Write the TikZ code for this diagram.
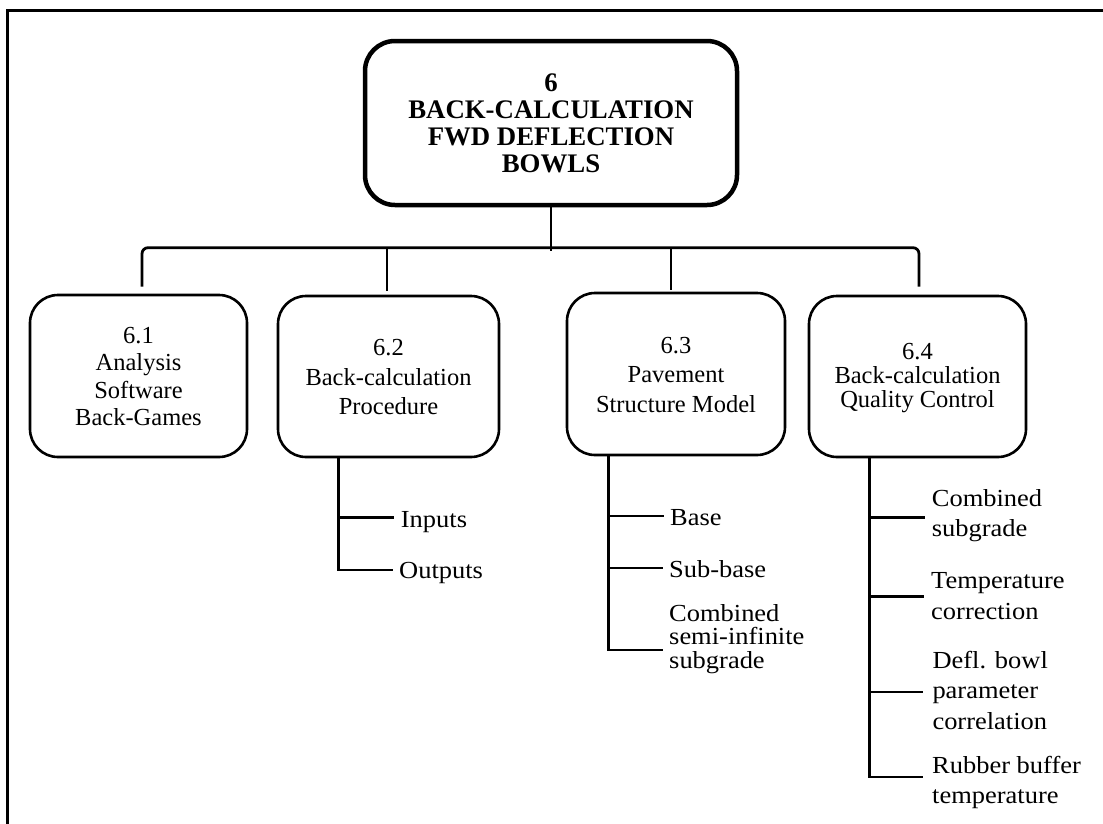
\documentclass[tikz,border=0pt]{standalone}
\usepackage{fontspec}
\setmainfont{Liberation Serif}
\newfontfamily\itemfont{Liberation Serif}[FakeStretch=1.08]
\usetikzlibrary{calc}

\tikzset{
  frameline/.style={line width=3pt},
  conn/.style={line width=2.8pt},
  topbox/.style={draw, line width=4.5pt, rounded corners=30pt,
    minimum width=372pt, minimum height=164pt, inner sep=0pt, align=center,
    font=\bfseries\fontsize{26.8}{27}\selectfont, text height=98.5pt, text depth=0pt},
  subbox/.style={draw, line width=2.6pt, rounded corners=28pt,
    inner sep=0pt, align=center, text depth=0pt},
  item/.style={anchor=base west, inner sep=0pt, align=left,
    font=\itemfont\fontsize{24.5}{30}\selectfont},
}

\begin{document}
\begin{tikzpicture}[x=1pt,y=-1pt]
\useasboundingbox (0,0) rectangle (1103,823);

% page frame (top and left edges)
\draw[frameline] (7.5,830) -- (7.5,10.7) -- (1110,10.7);

% main chapter box
\node[topbox] (top) at (551,123) {6\\BACK-CALCULATION\\FWD DEFLECTION\\BOWLS};

% section boxes
\node[subbox, minimum width=217pt, minimum height=162pt, text height=99.5pt,
      font=\fontsize{24.5}{27.5}\selectfont] (b1) at (138.5,376)
      {6.1\\Analysis\\Software\\Back-Games};
\node[subbox, minimum width=221pt, minimum height=161pt, text height=76pt,
      font=\fontsize{24.5}{29.5}\selectfont] (b2) at (388.5,376.5)
      {6.2\\Back-calculation\\Procedure};
\node[subbox, minimum width=218pt, minimum height=162pt, text height=76pt,
      font=\fontsize{24.5}{29.5}\selectfont] (b3) at (676,374)
      {6.3\\Pavement\\Structure Model};
\node[subbox, minimum width=217pt, minimum height=161pt, text height=65pt, text depth=4pt,
      font=\fontsize{24.5}{24}\selectfont] (b4) at (917.5,376.5)
      {6.4\\Back-calculation\\Quality Control};

% tree connectors from the chapter box to the sections
\draw[conn] (top.south) -- ++(0,44);
\draw[conn, rounded corners=6pt] ($(b1.north)+(3.5,-7)$) |- ($(b4.north)+(1.5,-47)$) -- ($(b4.north)+(1.5,-8)$);
\draw[conn] ($(b2.north)+(-1.5,-4)$) -- ++(0,-43);
\draw[conn] ($(b3.north)+(-5,-2)$) -- ++(0,-42);

% sub-items of 6.2 (node base = last text line)
\node[item] (i21) at (400.7,527) {Inputs};
\node[item] (i22) at (399,578) {Outputs};
\coordinate (s2) at ($(b2.south west)+(62,0)$);
\coordinate (t21) at ($(i21.base west)+(-6.7,-9.3)$);
\coordinate (t22) at ($(i22.base west)+(-6,-8)$);
\draw[conn] (s2) |- (t22);
\draw[conn] (s2 |- t21) -- (t21);

% sub-items of 6.3
\node[item] (i31) at (670,525) {Base};
\node[item] (i32) at (669,577) {Sub-base};
\node[item, font=\itemfont\fontsize{24.5}{23.5}\selectfont] (i33) at (669,668)
      {Combined\\semi-infinite\\subgrade};
\coordinate (s3) at ($(b3.south west)+(43,0)$);
\coordinate (t31) at ($(i31.base west)+(-6,-9)$);
\coordinate (t32) at ($(i32.base west)+(-6,-9)$);
\coordinate (t33) at ($(i33.base west)+(-6,-18)$);
\draw[conn] (s3) |- (t33);
\draw[conn] (s3 |- t31) -- (t31);
\draw[conn] (s3 |- t32) -- (t32);

% sub-items of 6.4
\node[item] (i41) at (931.7,536.7) {Combined\\subgrade};
\node[item, font=\itemfont\fontsize{24.5}{31}\selectfont] (i42) at (931,619)
      {Temperature\\correction};
\node[item, font=\itemfont\fontsize{24.5}{30.5}\selectfont] (i43) at (932.3,729)
      {Defl. bowl\\parameter\\correlation};
\node[item] (i44) at (932,803) {Rubber buffer\\temperature};
\coordinate (s4) at ($(b4.south west)+(62,0)$);
\coordinate (t41) at ($(i41.base west)+(-6.7,-19)$);
\coordinate (t42) at ($(i42.base west)+(-7,-22.3)$);
\coordinate (t43) at ($(i43.base west)+(-9.3,-37)$);
\coordinate (t44) at ($(i44.base west)+(-9,-26)$);
\draw[conn] (s4) |- (t44);
\draw[conn] (s4 |- t41) -- (t41);
\draw[conn] (s4 |- t42) -- (t42);
\draw[conn] (s4 |- t43) -- (t43);
\end{tikzpicture}
\end{document}
